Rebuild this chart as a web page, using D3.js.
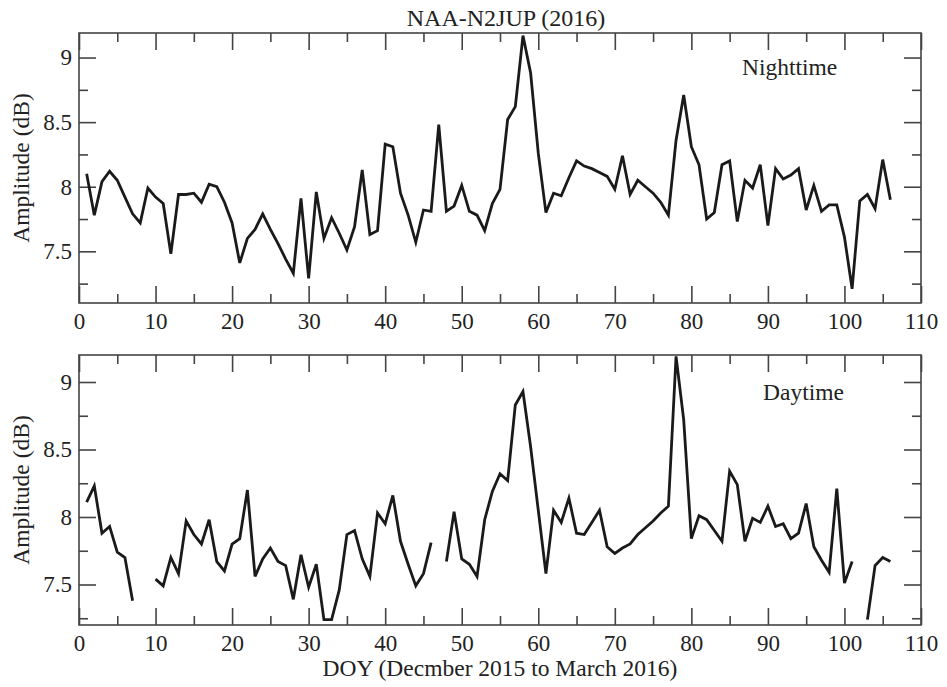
<!DOCTYPE html>
<html>
<head>
<meta charset="utf-8">
<script src="https://cdn.jsdelivr.net/npm/d3@7"></script>
<style>
  body { margin: 0; background: #fff; }
  svg { display: block; }
  text { font-family: "Liberation Serif", "DejaVu Serif", serif; fill: #222; }
</style>
</head>
<body>
<svg id="chart" width="947" height="687"></svg>
<script>
// Data
const doy = d3.range(1, 107)

const nighttime = [
  8.10, 7.78, 8.04, 8.12, 8.05, 7.92, 7.79, 7.72, 7.99, 7.92,
  7.87, 7.48, 7.94, 7.94, 7.95, 7.88, 8.02, 8.00, 7.88, 7.72,
  7.41, 7.60, 7.67, 7.79, 7.67, 7.56, 7.44, 7.33, 7.91, 7.29,
  7.96, 7.60, 7.76, 7.64, 7.51, 7.69, 8.13, 7.63, 7.66, 8.33,
  8.31, 7.95, 7.78, 7.57, 7.82, 7.81, 8.48, 7.81, 7.85, 8.01,
  7.81, 7.78, 7.66, 7.87, 7.98, 8.52, 8.62, 9.17, 8.88, 8.26,
  7.80, 7.95, 7.93, 8.07, 8.20, 8.16, 8.14, 8.11, 8.08, 7.98,
  8.24, 7.94, 8.05, 8.00, 7.95, 7.88, 7.78, 8.36, 8.71, 8.31,
  8.17, 7.75, 7.80, 8.17, 8.20, 7.73, 8.05, 7.99, 8.17, 7.70,
  8.14, 8.06, 8.09, 8.14, 7.82, 8.01, 7.81, 7.86, 7.86, 7.61,
  7.21, 7.89, 7.94, 7.83, 8.21, 7.90
]

const daytime = [
  8.11, 8.23, 7.88, 7.93, 7.74, 7.70, 7.38, null, null, 7.54,
  7.49, 7.70, 7.58, 7.97, 7.87, 7.80, 7.98, 7.67, 7.60, 7.80,
  7.84, 8.20, 7.56, 7.69, 7.77, 7.67, 7.64, 7.39, 7.72, 7.48,
  7.65, 7.24, 7.24, 7.46, 7.87, 7.90, 7.69, 7.56, 8.03, 7.95,
  8.16, 7.82, 7.65, 7.49, 7.58, 7.81, null, 7.67, 8.04, 7.69,
  7.65, 7.56, 7.98, 8.19, 8.32, 8.27, 8.83, 8.93, 8.52, 8.05,
  7.58, 8.05, 7.96, 8.14, 7.88, 7.87, 7.96, 8.05, 7.78, 7.73,
  7.77, 7.80, 7.87, 7.92, 7.97, 8.03, 8.08, 9.19, 8.72, 7.84,
  8.01, 7.98, 7.90, 7.82, 8.34, 8.24, 7.82, 7.99, 7.96, 8.08,
  7.93, 7.95, 7.84, 7.88, 8.10, 7.78, 7.68, 7.59, 8.21, 7.51,
  7.67, null, 7.24, 7.64, 7.70, 7.67
]

const xMajor = [0, 10, 20, 30, 40, 50, 60, 70, 80, 90, 100, 110]
const xMinor = [5, 15, 25, 35, 45, 55, 65, 75, 85, 95, 105]
const yMajor = [7.5, 8, 8.5, 9]
const yMinor = [7.25, 7.75, 8.25, 8.75]

//Params
const params = {
    "left": 79,
    "right": 921,
    "majorTick": 17,
    "minorTick": 9,
    "fontSize": 23.5,
    "tickFont": 23,
    "axisColor": "#444",
    "lineColor": "#1a1a1a"
}

const svg = d3.select("#chart")

const x = d3.scaleLinear().domain([0, 110]).range([params.left, params.right])

const panels = [
    {values: nighttime, label: "Nighttime", top: 33, bottom: 303, domain: [7.1, 9.19], labelX: 742, labelY: 75},
    {values: daytime, label: "Daytime", top: 355, bottom: 625, domain: [7.2, 9.2], labelX: 763, labelY: 400}
]

// Title
svg.append("text")
    .attr("x", 506)
    .attr("y", 26)
    .attr("text-anchor", "middle")
    .attr("font-size", 24)
    .text("NAA-N2JUP (2016)")

panels.forEach(function(p){
    const y = d3.scaleLinear().domain(p.domain).range([p.bottom, p.top])
    const g = svg.append("g")

    drawTicks(g, p, y)

    // frame
    g.append("rect")
        .attr("x", params.left)
        .attr("y", p.top)
        .attr("width", params.right - params.left)
        .attr("height", p.bottom - p.top)
        .attr("fill", "none")
        .attr("stroke", params.axisColor)
        .attr("stroke-width", 1.6)

    const line = d3.line()
        .defined(function(d){ return d[1] !== null })
        .x(function(d){ return x(d[0]) })
        .y(function(d){ return y(d[1]) })

    g.append("path")
        .datum(doy.map(function(d, i){ return [d, p.values[i]] }))
        .attr("d", line)
        .attr("fill", "none")
        .attr("stroke", params.lineColor)
        .attr("stroke-width", 2.8)
        .attr("stroke-linejoin", "miter")

    g.append("text")
        .attr("x", p.labelX)
        .attr("y", p.labelY)
        .attr("font-size", params.fontSize)
        .text(p.label)

    // y label
    g.append("text")
        .attr("transform", "translate(29," + ((p.top + p.bottom)/2) + ") rotate(-90)")
        .attr("text-anchor", "middle")
        .attr("font-size", params.fontSize)
        .text("Amplitude (dB)")
})

// x label
svg.append("text")
    .attr("x", 500)
    .attr("y", 676)
    .attr("text-anchor", "middle")
    .attr("font-size", params.fontSize)
    .text("DOY (Decmber 2015 to March 2016)")

function drawTicks(g, p, y){
    const axes = [
        [d3.axisBottom(x).tickValues(xMajor), "translate(0," + p.bottom + ")", params.majorTick, true],
        [d3.axisBottom(x).tickValues(xMinor), "translate(0," + p.bottom + ")", params.minorTick, false],
        [d3.axisTop(x).tickValues(xMajor), "translate(0," + p.top + ")", params.majorTick, false],
        [d3.axisTop(x).tickValues(xMinor), "translate(0," + p.top + ")", params.minorTick, false],
        [d3.axisLeft(y).tickValues(yMajor), "translate(" + params.left + ",0)", params.majorTick, true],
        [d3.axisLeft(y).tickValues(yMinor), "translate(" + params.left + ",0)", params.minorTick, false],
        [d3.axisRight(y).tickValues(yMajor), "translate(" + params.right + ",0)", params.majorTick, false],
        [d3.axisRight(y).tickValues(yMinor), "translate(" + params.right + ",0)", params.minorTick, false]
    ]

    axes.forEach(function(a){
        const axis = a[0].tickSize(-a[2]).tickPadding(7)
        if(!a[3]) axis.tickFormat("")
        else axis.tickFormat(d3.format(""))
        const ag = g.append("g")
            .attr("class", a[3] && a[1].indexOf("translate(0,") === 0 ? "xlab" : null)
            .attr("transform", a[1])
            .call(axis)
            .attr("font-family", null)
            .attr("font-size", null)
        ag.select(".domain").remove()
        ag.selectAll("line")
            .attr("stroke", params.axisColor)
            .attr("stroke-width", 1.6)
        ag.selectAll("text")
            .attr("font-size", params.tickFont)
            .attr("fill", "#222")
    })

    // bottom labels sit a bit lower than d3 puts them
    g.selectAll("g.xlab text")
        .attr("dy", null)
        .attr("y", 26)
}
</script>
</body>
</html>
